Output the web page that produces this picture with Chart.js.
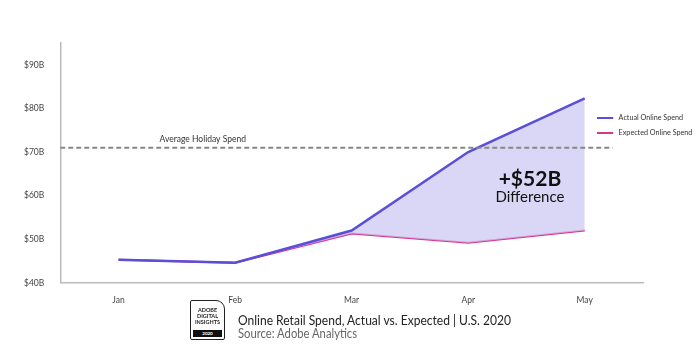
<!DOCTYPE html>
<html>
<head>
<meta charset="utf-8">
<script src="https://cdn.jsdelivr.net/npm/chart.js@4"></script>
<style>
body{margin:0;background:#fff;font-family:Lato,"Open Sans",sans-serif;}
#wrap{position:relative;width:700px;height:350px;overflow:hidden;}
#legend{position:absolute;left:597px;top:110px;font-size:8px;color:#333;line-height:15px;white-space:nowrap;transform:scaleX(0.9);transform-origin:left center;}
#legend span{display:inline-block;width:18px;height:2.5px;vertical-align:middle;margin-right:6px;}
#foot{position:absolute;left:190px;top:300px;}
#logo{position:absolute;left:0;top:0;width:35px;height:40px;border:1px solid #222;border-radius:2px 9px 2px 2px;font-size:5.5px;font-weight:bold;line-height:6px;text-align:center;padding-top:6px;box-sizing:border-box;color:#222;}
#logo div.yr{position:absolute;left:2px;right:2px;bottom:2px;height:7px;line-height:7px;background:#111;color:#fff;font-size:4.5px;}
#title{position:absolute;left:48px;top:11px;white-space:nowrap;font-size:14px;color:#222;transform:scaleX(0.86);transform-origin:left center;}
#src{position:absolute;left:48px;top:26px;white-space:nowrap;font-size:12.5px;color:#666;transform:scaleX(0.9);transform-origin:left center;}
</style>
</head>
<body>
<div id="wrap">
<canvas id="c" width="700" height="350"></canvas>
<div id="legend">
<div><span style="background:#5a4fd6"></span>Actual Online Spend</div>
<div><span style="background:#d9368e"></span>Expected Online Spend</div>
</div>
<div id="foot">
<div id="logo">ADOBE<br>DIGITAL<br>INSIGHTS<div class="yr">2020</div></div>
<div id="title">Online Retail Spend, Actual vs. Expected | U.S. 2020</div>
<div id="src">Source: Adobe Analytics</div>
</div>
</div>
<script>
const months=["Jan","Feb","Mar","Apr","May"];
const actualSpend=[45.3,44.6,52.0,70.0,82.3];
const expectedSpend=[45.3,44.6,51.3,49.2,52.0];
const avgHoliday=71.0;
const diffLabel="+$52B";
const diffSub="Difference";

const overlay={
  id:"overlay",
  afterDatasetsDraw(chart){
    const {ctx,chartArea,scales:{x,y}}=chart;
    const yy=y.getPixelForValue(avgHoliday);
    const xEnd=x.getPixelForValue(4)+28;
    ctx.save();
    ctx.strokeStyle="#888";
    ctx.lineWidth=2;
    ctx.setLineDash([5,3]);
    ctx.beginPath();
    ctx.moveTo(chartArea.left,yy);
    ctx.lineTo(xEnd,yy);
    ctx.stroke();
    ctx.setLineDash([]);
    ctx.fillStyle="#333";
    ctx.font="8.5px Lato";
    ctx.textAlign="left";
    ctx.textBaseline="bottom";
    ctx.fillText("Average Holiday Spend",x.getPixelForValue(0)+41,yy-4);
    ctx.textAlign="center";
    ctx.fillStyle="#111";
    ctx.font="bold 21px Lato";
    const cx=x.getPixelForValue(3.53);
    ctx.textBaseline="middle";
    ctx.fillText(diffLabel,cx,y.getPixelForValue(63.8));
    ctx.font="15px Lato";
    ctx.fillText(diffSub,cx,y.getPixelForValue(59.6));
    ctx.restore();
  }
};

new Chart(document.getElementById("c"),{
  type:"line",
  data:{
    labels:months,
    datasets:[
      {label:"Actual Online Spend",data:actualSpend,borderColor:"#5a4fd6",backgroundColor:"rgba(205,200,242,0.75)",borderWidth:2.5,pointRadius:0,fill:"+1",tension:0},
      {label:"Expected Online Spend",data:expectedSpend,borderColor:"#d9368e",borderWidth:2,pointRadius:0,fill:false,tension:0}
    ]
  },
  options:{
    responsive:false,
    animation:false,
    layout:{padding:{left:16,right:57,top:43,bottom:41}},
    plugins:{legend:{display:false},tooltip:{enabled:false}},
    scales:{
      x:{
        offset:true,
        grid:{display:false},
        border:{color:"#bbb",width:1.5},
        ticks:{color:"#444",font:{family:"Lato",size:8.5},padding:4}
      },
      y:{
        min:40,max:95,
        grid:{display:false},
        border:{color:"#bbb",width:1.5},
        afterBuildTicks(s){s.ticks=s.ticks.filter(t=>t.value%10===0);},
        ticks:{stepSize:10,color:"#444",font:{family:"Lato",size:8.5},padding:8,callback:v=>"$"+v+"B"}
      }
    }
  },
  plugins:[overlay]
});
</script>
</body>
</html>
